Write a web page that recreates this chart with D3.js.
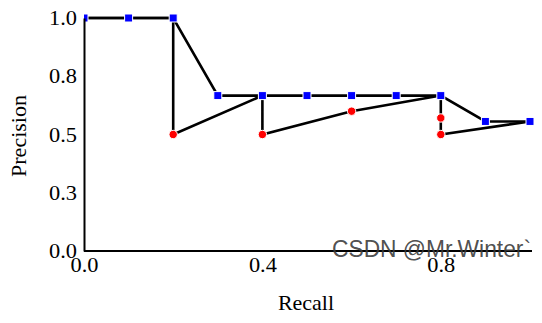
<!DOCTYPE html>
<html>
<head>
<meta charset="utf-8">
<script src="https://cdn.jsdelivr.net/npm/d3@7"></script>
<style>
  body { margin: 0; background: #fff; }
  text { font-family: "Liberation Serif", "DejaVu Serif", serif; }
</style>
</head>
<body>
<div id="chart"></div>
<script>
// raw PR curve points (recall, precision)
const rawRecall = [0.0, 0.1, 0.2, 0.2, 0.4, 0.4, 0.6, 0.8, 0.8, 0.8, 1.0];
const rawPrecision = [1.0, 1.0, 1.0, 0.5, 0.667, 0.5, 0.6, 0.667, 0.571, 0.5, 0.556];
// points drawn as red circles
const redRecall = [0.2, 0.4, 0.6, 0.8, 0.8];
const redPrecision = [0.5, 0.5, 0.6, 0.571, 0.5];
// 11-point interpolated precision (blue squares)
const interpRecall = [0.0, 0.1, 0.2, 0.3, 0.4, 0.5, 0.6, 0.7, 0.8, 0.9, 1.0];
const interpPrecision = [1.0, 1.0, 1.0, 0.667, 0.667, 0.667, 0.667, 0.667, 0.667, 0.556, 0.556];
const xTicks = [0.0, 0.4, 0.8];
const yTicks = [0.0, 0.25, 0.5, 0.75, 1.0];

const width = 542, height = 323;
const margin = {top: 18, right: 12, bottom: 72, left: 84};

const svg = d3.select("#chart").append("svg")
    .attr("width", width)
    .attr("height", height);

const x = d3.scaleLinear().domain([0, 1]).range([margin.left, width - margin.right]);
const y = d3.scaleLinear().domain([0, 1]).range([height - margin.bottom, margin.top]);

svg.append("clipPath").attr("id", "clip")
    .append("rect")
    .attr("x", margin.left).attr("y", 0)
    .attr("width", width - margin.left).attr("height", height - margin.bottom + 5);

const plot = svg.append("g").attr("clip-path", "url(#clip)");

const line = d3.line().x(d => x(d[0])).y(d => y(d[1]));

plot.append("path")
    .datum(rawRecall.map((r, i) => [r, rawPrecision[i]]))
    .attr("d", line)
    .attr("fill", "none")
    .attr("stroke", "#000")
    .attr("stroke-width", 2.6);

plot.append("path")
    .datum(interpRecall.map((r, i) => [r, interpPrecision[i]]))
    .attr("d", line)
    .attr("fill", "none")
    .attr("stroke", "#000")
    .attr("stroke-width", 2.6);

plot.selectAll(".red")
    .data(redRecall.map((r, i) => [r, redPrecision[i]]))
    .enter().append("circle")
    .attr("class", "red")
    .attr("cx", d => x(d[0]))
    .attr("cy", d => y(d[1]))
    .attr("r", 4.2)
    .attr("fill", "#ff0000")
    .attr("stroke", "#fff")
    .attr("stroke-width", 1);

plot.selectAll(".blue")
    .data(interpRecall.map((r, i) => [r, interpPrecision[i]]))
    .enter().append("rect")
    .attr("class", "blue")
    .attr("x", d => x(d[0]) - 4)
    .attr("y", d => y(d[1]) - 4)
    .attr("width", 8)
    .attr("height", 8)
    .attr("fill", "#0000ff")
    .attr("stroke", "#fff")
    .attr("stroke-width", 1);

// axes
const xAxis = svg.append("g")
    .attr("transform", "translate(0," + y(0) + ")")
    .call(d3.axisBottom(x).tickValues(xTicks).tickSize(0).tickPadding(6).tickFormat(d3.format(".1f")));
const yAxis = svg.append("g")
    .attr("transform", "translate(" + x(0) + ",0)")
    .call(d3.axisLeft(y).tickValues(yTicks).tickSize(0).tickPadding(7).tickFormat(d3.format(".1f")));

[xAxis, yAxis].forEach(a => {
    a.select(".domain").attr("stroke", "#000").attr("stroke-width", 2);
    a.selectAll("text").attr("font-size", 21).attr("fill", "#000")
        .attr("font-family", "'Liberation Serif', serif")
        .attr("textLength", 28)
        .attr("lengthAdjust", "spacingAndGlyphs");
});
xAxis.select(".domain").attr("d", "M" + x(0) + ",0H" + (x(1) + 2));

svg.append("text")
    .attr("x", 306)
    .attr("y", 310)
    .attr("text-anchor", "middle")
    .attr("font-size", 22)
    .text("Recall");

svg.append("text")
    .attr("transform", "translate(26,136) rotate(-90)")
    .attr("text-anchor", "middle")
    .attr("font-size", 22)
    .text("Precision");

// watermark
svg.append("text")
    .attr("x", 332)
    .attr("y", 257)
    .attr("font-size", 24)
    .attr("fill", "#3a3a3a")
    .attr("fill-opacity", 0.9)
    .attr("textLength", 199)
    .attr("lengthAdjust", "spacingAndGlyphs")
    .style("font-family", "'Liberation Sans', Arial, sans-serif")
    .text("CSDN @Mr.Winter`");
</script>
</body>
</html>
